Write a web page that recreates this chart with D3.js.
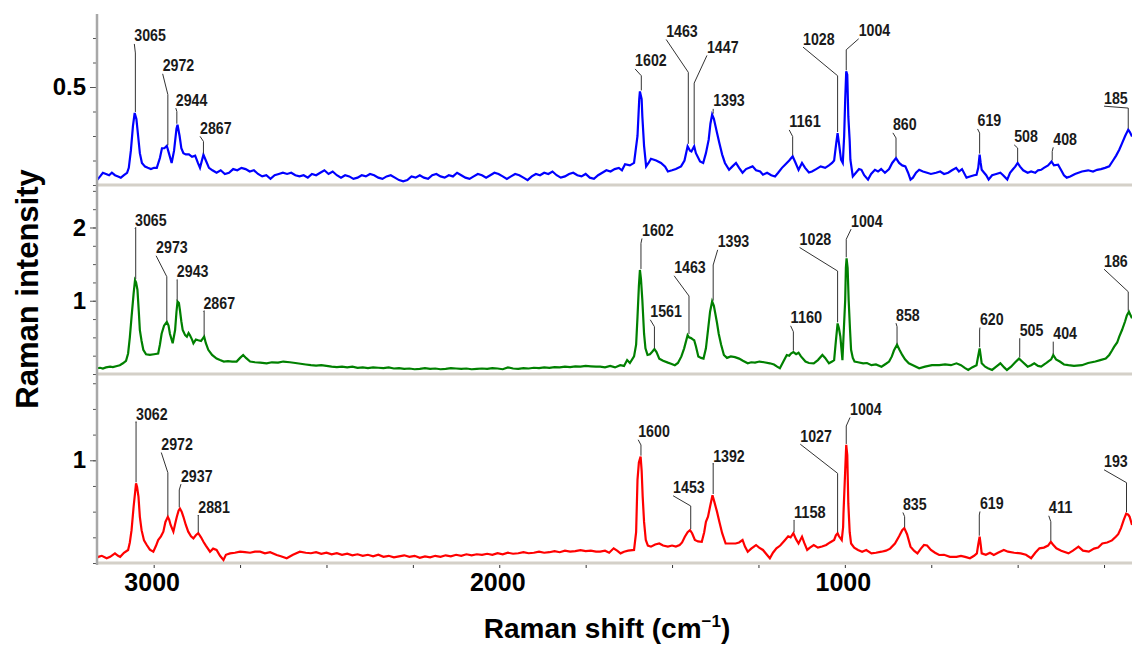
<!DOCTYPE html>
<html>
<head>
<meta charset="utf-8">
<script src="https://cdn.jsdelivr.net/npm/d3@7"></script>
<style>
  body { margin: 0; background: #fff; }
  svg { font-family: "Liberation Sans", Arial, sans-serif; }
</style>
</head>
<body>
<div id="chart"></div>
<script>
// spectra: [Raman shift (cm-1), intensity]
var blueSpectrum = [
  [3164,0.12],[3155,0.135],[3147,0.15],[3138,0.145],[3129,0.14],[3121,0.15],[3112,0.14],[3103,0.135],
  [3095,0.13],[3086,0.14],[3077,0.15],[3072,0.17],[3066,0.24],[3060,0.34],[3055,0.394],[3050,0.37],
  [3045,0.3],[3040,0.23],[3034,0.19],[3025,0.175],[3017,0.17],[3008,0.165],[2999,0.17],[2991,0.17],
  [2982,0.21],[2976,0.25],[2969,0.25],[2962,0.26],[2956,0.23],[2948,0.19],[2941,0.24],[2934,0.33],
  [2931,0.346],[2925,0.3],[2920,0.25],[2914,0.23],[2907,0.225],[2898,0.225],[2889,0.215],[2880,0.22],
  [2872,0.19],[2866,0.17],[2856,0.224],[2849,0.2],[2840,0.17],
  [2830,0.16],[2818,0.15],[2806,0.16],[2794,0.145],[2782,0.15],[2770,0.165],[2758,0.16],[2746,0.17],
  [2734,0.165],[2722,0.155],[2710,0.16],[2698,0.145],[2686,0.135],[2674,0.14],[2662,0.125],[2650,0.14],
  [2638,0.145],[2626,0.15],[2614,0.145],[2602,0.15],[2590,0.14],[2578,0.135],[2566,0.14],[2554,0.13],
  [2542,0.145],[2530,0.14],[2518,0.15],[2506,0.16],[2494,0.145],[2482,0.155],[2470,0.14],[2458,0.13],
  [2446,0.14],[2434,0.135],[2422,0.125],[2410,0.13],[2398,0.14],[2386,0.135],[2374,0.145],[2362,0.14],
  [2350,0.13],[2338,0.125],[2326,0.135],[2314,0.14],[2302,0.13],[2290,0.12],[2278,0.115],[2266,0.12],
  [2254,0.135],[2242,0.13],[2230,0.14],[2218,0.13],[2206,0.125],[2194,0.14],[2182,0.145],[2170,0.135],
  [2158,0.13],[2146,0.14],[2134,0.135],[2122,0.15],[2110,0.14],[2098,0.13],[2086,0.125],[2074,0.135],
  [2062,0.145],[2050,0.14],[2038,0.13],[2026,0.14],[2014,0.15],[2002,0.145],[1990,0.135],[1978,0.125],
  [1966,0.135],[1954,0.145],[1942,0.14],[1930,0.13],[1918,0.12],[1906,0.135],[1894,0.145],[1882,0.14],
  [1870,0.15],[1858,0.145],[1846,0.155],[1834,0.14],[1822,0.13],[1810,0.135],[1798,0.145],[1786,0.15],
  [1774,0.14],[1762,0.135],[1750,0.145],[1738,0.13],[1726,0.125],[1714,0.14],[1702,0.15],[1690,0.16],
  [1678,0.155],[1666,0.165],[1654,0.17],[1645,0.16],
  [1636,0.185],[1622,0.18],[1610,0.19],[1600,0.3],[1595,0.45],[1593,0.482],[1588,0.45],[1586,0.38],
  [1581,0.26],[1575,0.176],[1568,0.19],[1561,0.207],[1546,0.2],[1532,0.19],[1520,0.175],[1512,0.155],
  [1500,0.16],[1489,0.165],[1474,0.176],[1464,0.2],[1455,0.258],[1448,0.24],[1444,0.237],[1436,0.258],
  [1431,0.23],[1419,0.196],[1410,0.19],[1402,0.23],[1394,0.285],[1389,0.35],[1384,0.387],[1379,0.37],
  [1370,0.313],[1363,0.27],[1355,0.224],[1347,0.19],[1335,0.162],[1326,0.175],[1315,0.19],[1306,0.17],
  [1296,0.15],[1286,0.165],[1277,0.17],[1267,0.176],[1257,0.16],[1245,0.155],[1237,0.142],[1225,0.15],
  [1213,0.14],[1202,0.135],[1193,0.15],[1182,0.17],[1173,0.183],[1161,0.2],[1151,0.217],[1144,0.195],
  [1134,0.162],[1124,0.19],[1115,0.17],[1104,0.151],[1095,0.155],[1083,0.165],[1070,0.176],[1057,0.17],
  [1046,0.18],[1037,0.19],[1031,0.2],[1025,0.27],[1021,0.312],[1017,0.27],[1011,0.203],[1006,0.19],
  [1002,0.3],[999,0.448],[996,0.564],[993,0.55],[990,0.38],[986,0.28],[984,0.203],[977,0.135],
  [968,0.15],[959,0.165],[952,0.162],[944,0.14],[933,0.122],[924,0.145],[913,0.162],[904,0.155],
  [895,0.165],[884,0.15],[872,0.165],[863,0.19],[852,0.21],[843,0.19],[834,0.18],[825,0.176],
  [817,0.15],[810,0.122],[803,0.13],[794,0.15],[785,0.162],[774,0.155],[762,0.15],[751,0.145],
  [736,0.15],[724,0.155],[713,0.145],[701,0.15],[690,0.16],[678,0.17],[670,0.155],[661,0.165],
  [648,0.13],[638,0.135],[626,0.14],[619,0.142],[614,0.17],[610,0.224],[607,0.19],[604,0.162],
  [597,0.15],[591,0.14],[584,0.122],[574,0.14],[562,0.145],[550,0.15],[542,0.14],[530,0.122],
  [522,0.15],[513,0.165],[507,0.175],[500,0.19],[493,0.175],[484,0.16],[471,0.15],[461,0.155],
  [449,0.15],[441,0.16],[432,0.162],[424,0.17],[412,0.18],[402,0.196],[395,0.18],[383,0.183],
  [374,0.16],[366,0.14],[358,0.13],[348,0.135],[334,0.145],[314,0.155],[296,0.16],[282,0.155],
  [270,0.162],[259,0.165],[247,0.17],[235,0.176],[224,0.2],[215,0.22],[206,0.244],[198,0.27],
  [189,0.3],[180,0.326],[175,0.315],[169,0.298]
];

var greenSpectrum = [
  [3164,0.078],[3155,0.085],[3147,0.075],[3138,0.09],[3126,0.1],[3118,0.095],[3106,0.11],[3098,0.12],
  [3089,0.146],[3080,0.18],[3074,0.28],[3069,0.5],[3064,0.78],[3058,1.1],[3054,1.28],[3051,1.25],
  [3047,1.15],[3043,0.85],[3040,0.6],[3035,0.45],[3030,0.33],[3022,0.27],[3011,0.26],[2999,0.27],
  [2987,0.28],[2982,0.4],[2977,0.55],[2970,0.66],[2962,0.71],[2957,0.66],[2953,0.55],[2945,0.42],
  [2938,0.6],[2934,0.85],[2931,0.99],[2927,0.97],[2924,0.87],[2920,0.72],[2916,0.6],[2909,0.53],
  [2904,0.51],[2899,0.56],[2895,0.53],[2889,0.47],[2885,0.42],[2878,0.47],[2871,0.46],[2863,0.45],
  [2854,0.51],[2849,0.42],[2842,0.33],[2831,0.26],[2818,0.21],[2808,0.19],[2797,0.17],[2785,0.175],
  [2773,0.17],[2760,0.17],[2750,0.22],[2741,0.26],[2733,0.22],[2721,0.17],[2707,0.16],[2692,0.155],
  [2673,0.146],[2658,0.16],[2640,0.155],[2625,0.17],[2606,0.16],
  [2590,0.15],[2575,0.14],[2560,0.13],[2545,0.12],[2530,0.115],[2515,0.12],[2500,0.11],[2485,0.1],
  [2470,0.095],[2455,0.1],[2440,0.09],[2425,0.1],[2410,0.085],[2395,0.09],[2380,0.08],[2365,0.09],
  [2350,0.085],[2335,0.08],[2320,0.09],[2305,0.075],[2290,0.08],[2275,0.07],[2260,0.075],[2245,0.065],
  [2230,0.07],[2215,0.08],[2200,0.07],[2185,0.075],[2170,0.065],[2155,0.07],[2140,0.08],[2125,0.075],
  [2110,0.07],[2095,0.075],[2080,0.065],[2065,0.07],[2050,0.075],[2035,0.07],[2020,0.08],[2005,0.075],
  [1990,0.065],[1975,0.09],[1960,0.075],[1945,0.07],[1930,0.08],[1915,0.075],[1900,0.085],[1885,0.08],
  [1870,0.09],[1855,0.085],[1840,0.095],[1825,0.09],[1810,0.1],[1795,0.095],[1780,0.105],[1765,0.1],
  [1750,0.11],[1735,0.105],[1720,0.1],
  [1708,0.1],[1694,0.09],[1679,0.11],[1665,0.09],[1650,0.12],[1639,0.11],[1630,0.19],[1622,0.15],
  [1610,0.24],[1604,0.4],[1600,0.78],[1596,1.2],[1593,1.42],[1590,1.3],[1586,1.01],[1581,0.55],
  [1577,0.35],[1571,0.26],[1564,0.27],[1558,0.3],[1551,0.34],[1545,0.3],[1537,0.21],[1526,0.18],
  [1512,0.155],[1503,0.14],[1492,0.12],[1483,0.15],[1473,0.24],[1465,0.35],[1455,0.53],[1451,0.5],
  [1445,0.49],[1439,0.47],[1436,0.46],[1431,0.38],[1424,0.24],[1416,0.22],[1409,0.21],[1402,0.35],
  [1396,0.6],[1390,0.85],[1384,0.99],[1379,0.93],[1375,0.83],[1370,0.7],[1365,0.55],[1358,0.4],
  [1350,0.26],[1341,0.22],[1330,0.24],[1318,0.23],[1306,0.21],[1295,0.18],[1281,0.146],[1271,0.16],
  [1260,0.155],[1247,0.17],[1234,0.16],[1217,0.146],[1205,0.13],[1196,0.1],[1188,0.078],[1179,0.16],
  [1168,0.26],[1161,0.25],[1156,0.28],[1149,0.3],[1141,0.27],[1134,0.29],[1127,0.24],[1114,0.17],
  [1104,0.15],[1090,0.146],[1078,0.19],[1065,0.26],[1057,0.22],[1046,0.146],[1037,0.17],[1031,0.19],
  [1026,0.45],[1021,0.69],[1017,0.62],[1013,0.51],[1007,0.19],[1003,0.6],[999,1.01],[997,1.45],
  [995,1.58],[992,1.45],[989,1.01],[985,0.6],[982,0.33],[977,0.22],[972,0.17],[962,0.16],
  [947,0.146],[936,0.15],[923,0.12],[910,0.13],[894,0.1],[881,0.14],[872,0.17],[864,0.24],
  [858,0.32],[849,0.4],[842,0.33],[834,0.26],[826,0.2],[815,0.146],[803,0.12],[785,0.078],
  [768,0.1],[748,0.12],[727,0.12],[710,0.13],[693,0.12],[677,0.146],[664,0.12],[652,0.08],
  [643,0.055],[632,0.09],[619,0.12],[614,0.25],[610,0.35],[607,0.25],[604,0.146],[594,0.1],
  [586,0.08],[574,0.055],[562,0.1],[550,0.146],[539,0.09],[531,0.055],[519,0.1],[507,0.16],
  [496,0.21],[487,0.17],[471,0.1],[461,0.12],[452,0.146],[441,0.11],[432,0.1],[420,0.14],
  [412,0.17],[403,0.2],[397,0.26],[389,0.2],[378,0.17],[366,0.13],[353,0.12],[337,0.11],
  [314,0.12],[296,0.15],[275,0.17],[261,0.19],[245,0.21],[235,0.26],[227,0.32],[221,0.37],
  [212,0.43],[206,0.51],[198,0.6],[189,0.72],[184,0.8],[178,0.85],[175,0.82],[169,0.76]
];

var redSpectrum = [
  [3164,0.05],[3160,0.06],[3150,0.07],[3136,0.046],[3126,0.06],[3112,0.094],[3103,0.07],[3097,0.06],
  [3086,0.1],[3074,0.127],[3069,0.2],[3064,0.32],[3058,0.55],[3051,0.776],[3048,0.74],[3044,0.646],
  [3040,0.45],[3035,0.32],[3028,0.22],[3020,0.175],[3011,0.13],[3001,0.11],[2993,0.17],[2987,0.224],
  [2979,0.26],[2972,0.305],[2966,0.4],[2959,0.45],[2955,0.42],[2951,0.37],[2943,0.305],[2938,0.38],
  [2933,0.45],[2928,0.51],[2924,0.53],[2919,0.5],[2914,0.45],[2907,0.37],[2900,0.305],[2892,0.26],
  [2885,0.24],[2878,0.27],[2871,0.29],[2863,0.25],[2856,0.207],[2849,0.17],[2837,0.11],[2828,0.14],
  [2818,0.127],[2808,0.07],[2798,0.03],[2791,0.08],[2779,0.094],[2765,0.1],[2750,0.11],[2736,0.105],
  [2721,0.1],[2707,0.11],[2692,0.11],[2678,0.095],[2663,0.105],[2644,0.078],[2632,0.065],[2615,0.046],
  [2597,0.08],[2577,0.11],
  [2560,0.1],[2545,0.095],[2530,0.105],[2515,0.09],[2500,0.1],[2485,0.085],[2470,0.095],[2455,0.08],
  [2440,0.09],[2425,0.075],[2410,0.085],[2395,0.07],[2380,0.08],[2365,0.065],[2350,0.08],[2335,0.06],
  [2320,0.07],[2305,0.055],[2290,0.065],[2275,0.075],[2260,0.06],[2245,0.07],[2230,0.05],[2215,0.065],
  [2200,0.055],[2185,0.07],[2170,0.06],[2155,0.075],[2140,0.065],[2125,0.08],[2110,0.07],[2095,0.085],
  [2080,0.075],[2065,0.085],[2050,0.08],[2035,0.09],[2020,0.08],[2005,0.095],[1990,0.085],[1975,0.1],
  [1960,0.09],[1945,0.095],[1930,0.105],[1915,0.095],[1900,0.1],[1885,0.11],[1870,0.1],[1855,0.105],
  [1840,0.115],[1825,0.105],[1810,0.12],[1795,0.11],[1780,0.115],[1765,0.125],[1750,0.115],[1735,0.12],
  [1720,0.11],
  [1708,0.11],[1694,0.12],[1682,0.1],[1669,0.143],[1659,0.12],[1649,0.094],[1639,0.11],[1627,0.12],
  [1610,0.127],[1604,0.3],[1600,0.81],[1596,0.98],[1591,1.035],[1588,0.9],[1585,0.646],[1581,0.4],
  [1576,0.224],[1570,0.17],[1561,0.159],[1549,0.18],[1537,0.19],[1526,0.17],[1512,0.159],[1500,0.17],
  [1489,0.16],[1478,0.175],[1471,0.2],[1463,0.256],[1455,0.3],[1448,0.32],[1442,0.29],[1434,0.224],
  [1425,0.21],[1414,0.207],[1407,0.3],[1402,0.4],[1396,0.45],[1390,0.55],[1383,0.66],[1378,0.6],
  [1370,0.5],[1363,0.4],[1355,0.29],[1345,0.19],[1332,0.19],[1316,0.19],[1306,0.2],[1296,0.224],
  [1289,0.16],[1281,0.11],[1271,0.14],[1257,0.175],[1248,0.15],[1237,0.127],[1228,0.09],[1217,0.046],
  [1208,0.1],[1198,0.143],[1187,0.17],[1173,0.224],[1164,0.26],[1157,0.25],[1149,0.29],[1141,0.23],
  [1134,0.19],[1128,0.23],[1124,0.256],[1118,0.2],[1109,0.127],[1101,0.15],[1090,0.175],[1078,0.15],
  [1066,0.16],[1054,0.175],[1043,0.2],[1031,0.224],[1026,0.27],[1021,0.29],[1017,0.26],[1009,0.224],
  [1005,0.35],[1004,0.48],[999,0.9],[996,1.15],[993,1.05],[990,0.58],[986,0.3],[982,0.19],
  [973,0.15],[962,0.127],[950,0.11],[938,0.127],[923,0.094],[910,0.1],[894,0.11],[881,0.12],
  [869,0.14],[855,0.19],[843,0.26],[834,0.32],[828,0.34],[820,0.28],[810,0.159],[800,0.12],
  [790,0.094],[780,0.14],[771,0.175],[762,0.17],[751,0.127],[739,0.1],[727,0.078],[713,0.08],
  [696,0.06],[677,0.06],[664,0.07],[652,0.06],[638,0.046],[626,0.07],[618,0.094],[614,0.18],
  [610,0.256],[607,0.18],[604,0.094],[592,0.08],[580,0.1],[569,0.078],[557,0.1],[540,0.127],
  [528,0.11],[510,0.1],[491,0.094],[476,0.08],[461,0.046],[449,0.1],[437,0.143],[424,0.15],
  [412,0.17],[404,0.207],[398,0.18],[388,0.143],[374,0.12],[353,0.094],[340,0.12],[324,0.159],
  [311,0.12],[294,0.11],[279,0.14],[267,0.15],[255,0.19],[241,0.2],[227,0.22],[216,0.256],
  [209,0.28],[201,0.34],[193,0.42],[186,0.48],[180,0.47],[176,0.45],[169,0.37]
];

// peak labels: [text, peak shift, peak top, bend intensity, text shift, text intensity]
var blueLabels = [
  ["3065",3053,0.394,0.639,3056,0.686],
  ["2972",2959,0.258,0.469,2974,0.564],
  ["2944",2933,0.346,0.4,2936,0.424],
  ["2867",2856,0.224,0.278,2866,0.309],
  ["1602",1589,0.482,0.546,1607,0.584],
  ["1463",1453,0.264,0.56,1517,0.704],
  ["1447",1436,0.264,0.516,1399,0.639],
  ["1393",1381,0.387,0.4,1381,0.421],
  ["1161",1151,0.217,0.298,1161,0.335],
  ["1028",1021,0.312,0.546,1121,0.673],
  ["1004",996,0.564,0.652,960,0.707],
  ["860",852,0.21,0.292,861,0.323],
  ["619",610,0.224,0.312,616,0.339],
  ["508",500,0.19,0.251,510,0.274],
  ["408",400,0.196,0.237,397,0.264],
  ["185",180,0.326,0.414,250,0.432]
];
var greenLabels = [
  ["3065",3052,1.283,2.0,3054,2.02],
  ["2973",2962,0.714,1.328,2993,1.648],
  ["2943",2932,0.987,1.29,2933,1.32],
  ["2867",2854,0.509,0.864,2856,0.887],
  ["1602",1590,1.42,1.784,1587,1.884],
  ["1561",1551,0.337,0.646,1563,0.774],
  ["1463",1451,0.532,1.065,1494,1.375],
  ["1393",1381,0.987,1.488,1368,1.729],
  ["1160",1149,0.304,0.577,1157,0.692],
  ["1028",1021,0.692,1.406,1131,1.761],
  ["1004",996,1.579,1.839,982,2.011],
  ["858",849,0.396,0.646,852,0.728],
  ["620",610,0.351,0.601,609,0.669],
  ["505",494,0.214,0.487,494,0.523],
  ["404",397,0.259,0.441,397,0.474],
  ["186",180,0.85,1.123,250,1.465]
];
var redLabels = [
  ["3062",3051,0.776,1.376,3051,1.392],
  ["2972",2959,0.451,0.879,2978,1.1],
  ["2937",2926,0.533,0.711,2921,0.792],
  ["2881",2871,0.289,0.467,2871,0.484],
  ["1600",1590,1.035,1.149,1598,1.224],
  ["1453",1446,0.321,0.555,1497,0.679],
  ["1392",1381,0.662,0.971,1381,0.986],
  ["1158",1147,0.289,0.419,1147,0.441],
  ["1027",1021,0.289,0.873,1129,1.181],
  ["1004",996,1.149,1.334,985,1.441],
  ["835",827,0.338,0.451,832,0.516],
  ["619",611,0.256,0.467,609,0.526],
  ["411",404,0.207,0.402,410,0.484],
  ["193",185,0.484,0.782,250,0.932]
];

var shiftTicks = [250,500,750,1000,1250,1500,1750,2000,2250,2500,2750,3000];
var shiftTickLabels = [1000,2000,3000];
var topTicks = [0.1,0.2,0.3,0.4,0.5,0.6,0.7];
var topTickLabels = [0.5];
var midTicks = [0,0.25,0.5,0.75,1,1.25,1.5,1.75,2,2.25,2.5];
var midTickLabels = [1,2];
var botTicks = [0,0.25,0.5,0.75,1,1.25,1.5,1.75];
var botTickLabels = [1];

var width = 1132, height = 648;
var left = 97, right = 1131;

var svg = d3.select("#chart").append("svg")
    .attr("width", width)
    .attr("height", height);

var x = d3.scaleLinear().domain([3164, 172]).range([left, right]);

var panels = [
  {data: blueSpectrum, labels: blueLabels, color: "#0000ff", ticks: topTicks, tickLabels: topTickLabels,
   y: d3.scaleLinear().domain([0.1, 0.798]).range([185, 14])},
  {data: greenSpectrum, labels: greenLabels, color: "#008000", ticks: midTicks, tickLabels: midTickLabels,
   y: d3.scaleLinear().domain([0, 2.58]).range([374, 185])},
  {data: redSpectrum, labels: redLabels, color: "#ff0000", ticks: botTicks, tickLabels: botTickLabels,
   y: d3.scaleLinear().domain([0, 1.84]).range([563, 374])}
];

svg.append("defs")
  .append("clipPath")
    .attr("id", "clip")
  .append("rect")
    .attr("x", left)
    .attr("y", 0)
    .attr("width", right - left + 1)
    .attr("height", 565);

// panel base lines
panels.forEach(function(p){
  var y0 = p.y.range()[0];
  svg.append("line")
      .attr("x1", left).attr("x2", width)
      .attr("y1", y0).attr("y2", y0)
      .attr("stroke", "#d4d0c8")
      .attr("stroke-width", 3);
});

panels.forEach(function(p){
  var line = d3.line()
      .x(d => x(d[0]))
      .y(d => p.y(d[1]));

  svg.append("path")
      .datum(p.data)
      .attr("clip-path", "url(#clip)")
      .attr("fill", "none")
      .attr("stroke", p.color)
      .attr("stroke-width", 2.2)
      .attr("stroke-linejoin", "miter")
      .attr("d", line);

  var ann = svg.append("g").selectAll("g")
      .data(p.labels)
    .enter().append("g");

  ann.append("path")
      .attr("fill", "none")
      .attr("stroke", "#333")
      .attr("stroke-width", 1)
      .attr("d", d => d3.line()([
        [x(d[4]), p.y(d[5]) + 2.5],
        [x(d[1]), p.y(d[3])],
        [x(d[1]), p.y(d[2]) - 1]
      ]));

  ann.append("text")
      .attr("x", d => x(d[4]))
      .attr("y", d => p.y(d[5]))
      .attr("font-size", 16)
      .attr("font-weight", "bold")
      .attr("fill", "#1a1a1a")
      .attr("textLength", d => d[0].length * 7.9)
      .attr("lengthAdjust", "spacingAndGlyphs")
      .text(d => d[0]);

  // minor ticks
  svg.append("g")
      .attr("transform", `translate(${left - 1},0)`)
      .call(d3.axisLeft(p.y).tickValues(p.ticks).tickSize(3).tickFormat(""))
      .call(g => g.select(".domain").remove())
      .selectAll("line").attr("stroke", "#555");

  // labelled ticks
  svg.append("g")
      .attr("transform", `translate(${left - 1},0)`)
      .call(d3.axisLeft(p.y).tickValues(p.tickLabels).tickSize(6).tickPadding(4).tickFormat(d3.format("")))
      .call(g => g.select(".domain").remove())
      .call(g => g.selectAll("line").attr("stroke", "#555"))
      .selectAll("text")
        .attr("font-family", "Liberation Sans, Arial, sans-serif")
        .attr("font-size", 24)
        .attr("font-weight", "bold")
        .attr("fill", "#000");
});

// left axis line
svg.append("line")
    .attr("x1", left).attr("x2", left)
    .attr("y1", 14).attr("y2", 565)
    .attr("stroke", "#a8a8a8")
    .attr("stroke-width", 2.5);

// x axis
svg.append("g")
    .attr("transform", `translate(0,${565})`)
    .call(d3.axisBottom(x).tickValues(shiftTicks).tickSize(3).tickFormat(""))
    .call(g => g.select(".domain").remove())
    .selectAll("line").attr("stroke", "#333");

svg.append("g")
    .attr("transform", `translate(-2,${565})`)
    .call(d3.axisBottom(x).tickValues(shiftTickLabels).tickSize(0).tickPadding(8).tickFormat(d3.format("")))
    .call(g => g.select(".domain").remove())
    .selectAll("text")
      .attr("font-family", "Liberation Sans, Arial, sans-serif")
      .attr("font-size", 25)
      .attr("font-weight", "bold")
      .attr("fill", "#000");

// axis titles
var xTitle = svg.append("text")
    .attr("x", 607)
    .attr("y", 638)
    .attr("text-anchor", "middle")
    .attr("font-size", 28)
    .attr("font-weight", "bold")
    .text("Raman shift (cm");
xTitle.append("tspan")
    .attr("font-size", 17)
    .attr("dy", -11)
    .text("\u22121");
xTitle.append("tspan")
    .attr("dy", 11)
    .text(")");

svg.append("text")
    .attr("transform", "translate(38,289) rotate(-90)")
    .attr("text-anchor", "middle")
    .attr("font-size", 31)
    .attr("font-weight", "bold")
    .text("Raman intensity");
</script>
</body>
</html>
